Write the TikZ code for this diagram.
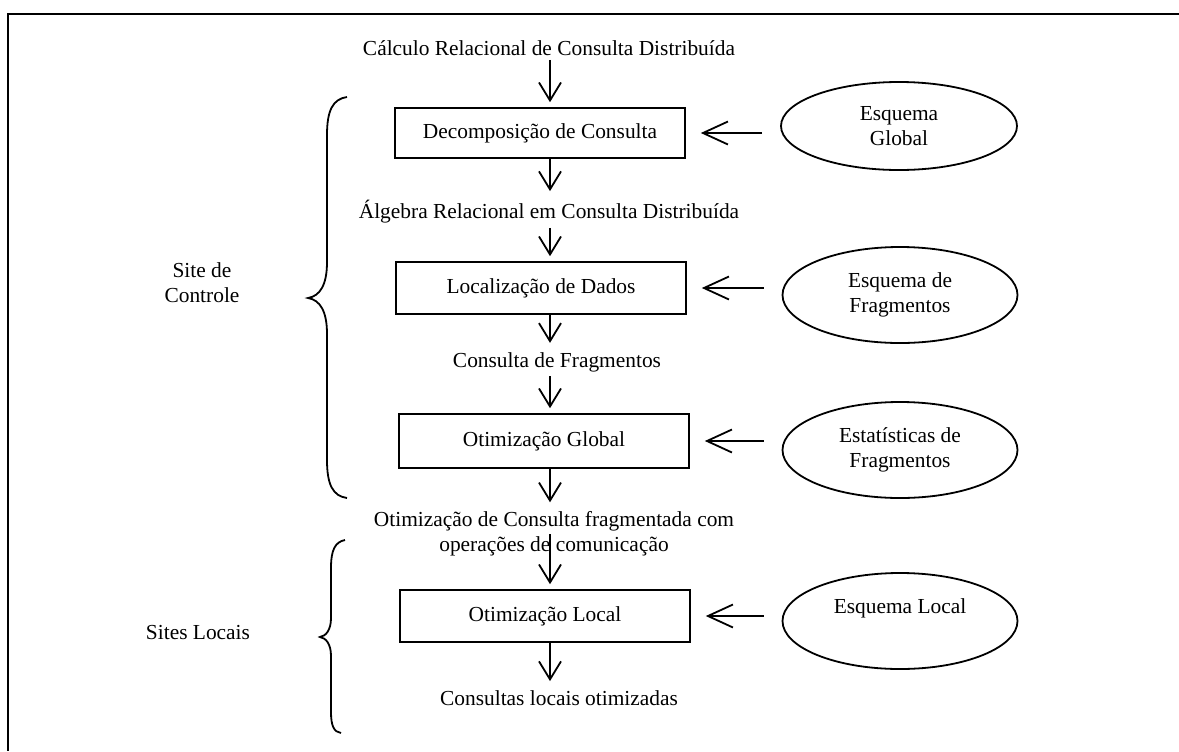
\documentclass[tikz,border=0pt]{standalone}
\usepackage{fontspec}
\setmainfont{Liberation Serif}
\usetikzlibrary{arrows.meta,shapes.geometric}
\begin{document}
\begin{tikzpicture}[x=0.5pt,y=-0.5pt,
  font=\fontsize{10.7pt}{12.5pt}\selectfont,
  procbox/.style={draw, line width=0.8pt, minimum width=145pt, minimum height=26pt, inner sep=0pt},
  store/.style={ellipse, draw, line width=0.9pt, minimum width=117.5pt, minimum height=48pt, inner sep=0pt, align=center},
  lbl/.style={inner sep=2pt, align=center},
  flow/.style={line width=0.9pt, -{Straight Barb[length=9pt,width=11pt]}, shorten >=2.5pt},
  feed/.style={line width=0.9pt, -{Straight Barb[length=12.5pt,width=11.5pt]}, shorten <=9pt, shorten >=7.5pt},
  bracepath/.style={line width=0.9pt}]
\useasboundingbox (0,0) rectangle (1179,751);

% open frame: top and left rules
\draw[line width=1pt] (1179,14) -- (8,14) -- (8,751);

% processing column
\coordinate (col) at (550,0);
\node[lbl] (t0) at (549,48) {Cálculo Relacional de Consulta Distribuída};
\node[procbox, minimum height=25pt] (b1) at (540,133) {Decomposição de Consulta};
\node[lbl] (t1) at (549,212) {Álgebra Relacional em Consulta Distribuída};
\node[procbox] (b2) at (541,288) {Localização de Dados};
\node[lbl] (t2) at (557,362) {Consulta de Fragmentos};
\node[procbox, minimum height=27pt] (b3) at (544,441) {Otimização Global};
\node[lbl] (t3) at (554,534) {Otimização de Consulta fragmentada com\\operações de comunicação};
\node[procbox] (b4) at (545,616) {Otimização Local};
\node[lbl] (t4) at (559,698) {Consultas locais otimizadas};

\draw[flow] (t0.south -| col) -- (b1.north -| col);
\draw[flow] (b1.south -| col) -- (t1.north -| col);
\draw[flow] (t1.south -| col) -- (b2.north -| col);
\draw[flow] (b2.south -| col) -- (t2.north -| col);
\draw[flow] (t2.south -| col) -- (b3.north -| col);
\draw[flow] (b3.south -| col) -- (t3.north -| col);
\draw[flow] (t3.center -| col) -- (b4.north -| col);
\draw[flow] (b4.south -| col) -- (t4.north -| col);

% schema sources
\node[store, minimum width=118pt, minimum height=44pt] (e1) at (899,126) {Esquema\\Global};
\node[store] (e2) at (900,295) {Esquema de\\Fragmentos};
\node[store] (e3) at (900,450) {Estatísticas de\\Fragmentos};
\node[store] (e4) at (900,621) {};
\node[lbl] (e4t) at (900,608) {Esquema Local};

\draw[feed] (e1.west |- b1.east) -- (b1.east);
\draw[feed] (e2.west |- b2.east) -- (b2.east);
\draw[feed] (e3.west |- b3.east) -- (b3.east);
\draw[feed] (e4.west |- b4.east) -- (b4.east);

% site groupings
\node[lbl] (s1) at (202,283) {Site de\\Controle};
\node[lbl] (s2) at (198,633) {Sites Locais};

\draw[bracepath] (347,97) .. controls (333,99) and (327,110) .. (327,135)
  -- (327,262) .. controls (327,285) and (320,296) .. (308,298)
  .. controls (320,300) and (327,311) .. (327,334)
  -- (327,460) .. controls (327,485) and (333,496) .. (347,498);
\draw[bracepath] (345,540) .. controls (335,542) and (331,550) .. (331,568)
  -- (331,618) .. controls (331,630) and (326,636) .. (320,637)
  .. controls (326,638) and (331,644) .. (331,656)
  -- (331,712) .. controls (331,726) and (334,732) .. (341,733);
\end{tikzpicture}
\end{document}
